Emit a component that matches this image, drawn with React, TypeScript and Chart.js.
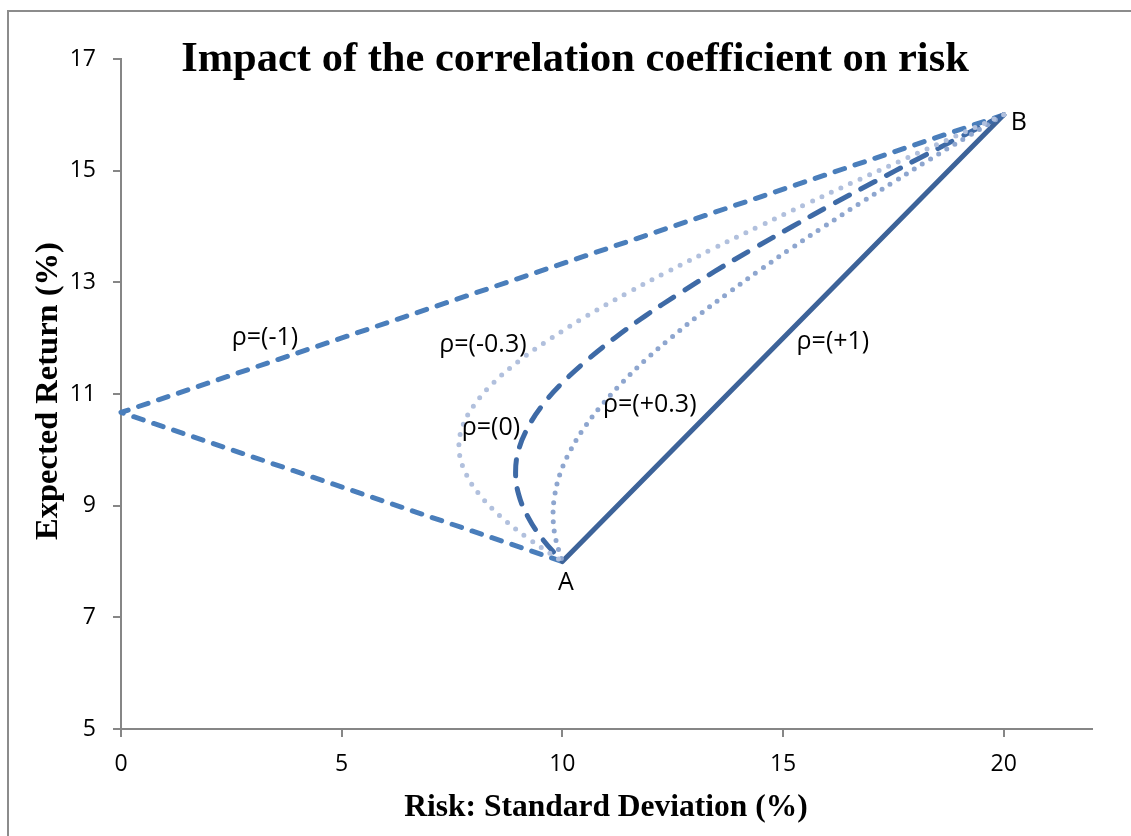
import React, { useEffect, useRef } from "react";
import { Chart, registerables } from "chart.js";
Chart.register(...registerables);

// Expected return (%) of the two-asset portfolios, from B (top) down to A (bottom)
const portfolioReturns = [16, 15.6, 15.2, 14.8, 14.4, 14, 13.6, 13.2, 12.8, 12.4, 12, 11.6, 11.2, 10.8, 10.4, 10, 9.6, 9.2, 8.8, 8.4, 8];
// Risk (%)
const riskRhoMinus03 = [20, 18.86, 17.73, 16.61, 15.52, 14.45, 13.41, 12.41, 11.45, 10.56, 9.75, 9.03, 8.44, 8.0, 7.73, 7.66, 7.8, 8.12, 8.61, 9.25, 10];
const riskRho0 = [20, 19.01, 18.03, 17.07, 16.12, 15.21, 14.32, 13.46, 12.65, 11.88, 11.18, 10.55, 10.0, 9.55, 9.22, 9.01, 8.94, 9.01, 9.22, 9.55, 10];
const riskRhoPlus03 = [20, 19.16, 18.32, 17.51, 16.71, 15.93, 15.17, 14.44, 13.74, 13.07, 12.45, 11.87, 11.35, 10.89, 10.5, 10.19, 9.96, 9.83, 9.79, 9.85, 10];
const rhoMinus1Risk = [20, 0, 10];
const rhoMinus1Return = [16, 10.67, 8];
const rhoPlus1Risk = [10, 20];
const rhoPlus1Return = [8, 16];

const labelTexts = ["ρ=(-1)", "ρ=(-0.3)", "ρ=(0)", "ρ=(+0.3)", "ρ=(+1)", "A", "B"];
const labelX = [3.26, 8.2, 8.38, 11.98, 16.13, 10.08, 20.34];
const labelY = [12.0, 11.88, 10.39, 10.8, 11.93, 7.62, 15.85];

const xTicks = [0, 5, 10, 15, 20];
const yTicks = [5, 7, 9, 11, 13, 15, 17];

const chartTitle = "Impact of the correlation coefficient on risk";
const xTitle = "Risk: Standard Deviation (%)";
const yTitle = "Expected Return (%)";

const pts = (xs: number[], ys: number[]) => xs.map((x, i) => ({ x, y: ys[i] }));

export default function App() {
  const ref = useRef<HTMLCanvasElement | null>(null);
  useEffect(() => {
    if (!ref.current) return;
    const decor = {
      id: "decor",
      beforeDraw(chart: any) {
        const ctx = chart.ctx;
        ctx.save();
        ctx.fillStyle = "#ffffff";
        ctx.fillRect(0, 0, chart.width, chart.height);
        ctx.strokeStyle = "#8c8c8c";
        ctx.lineWidth = 2;
        ctx.beginPath();
        ctx.moveTo(8, 836);
        ctx.lineTo(8, 11);
        ctx.lineTo(1131, 11);
        ctx.stroke();
        ctx.restore();
      },
      afterDraw(chart: any) {
        const ctx = chart.ctx;
        const xs = chart.scales.x;
        const ys = chart.scales.y;
        ctx.save();
        ctx.fillStyle = "#000000";
        ctx.textAlign = "center";
        ctx.textBaseline = "alphabetic";
        ctx.font = "bold 42.5px 'Liberation Serif', 'Times New Roman', serif";
        ctx.fillText(chartTitle, 575, 71);
        ctx.font = "bold 31.5px 'Liberation Serif', 'Times New Roman', serif";
        ctx.fillText(xTitle, 606, 816);
        ctx.save();
        ctx.font = "bold 32.5px 'Liberation Serif', 'Times New Roman', serif";
        ctx.translate(57, 391);
        ctx.rotate(-Math.PI / 2);
        ctx.fillText(yTitle, 0, 0);
        ctx.restore();
        ctx.font = "25px 'Open Sans', sans-serif";
        ctx.textBaseline = "middle";
        labelTexts.forEach((t, i) => {
          ctx.fillText(t, xs.getPixelForValue(labelX[i]), ys.getPixelForValue(labelY[i]));
        });
        ctx.restore();
      },
    };
    const common = { showLine: true, pointRadius: 0, borderWidth: 5, borderCapStyle: "round", borderJoinStyle: "round", fill: false, clip: 10 };
    const chart = new Chart(ref.current, {
      type: "scatter",
      data: {
        datasets: [
          { ...common, label: "ρ=(-0.3)", data: pts(riskRhoMinus03, portfolioReturns), borderColor: "#b1c0dd", borderDash: [0, 10.5], tension: 0.4 },
          { ...common, label: "ρ=(+0.3)", data: pts(riskRhoPlus03, portfolioReturns), borderColor: "#8ea6cf", borderDash: [0, 9.5], tension: 0.4 },
          { ...common, label: "ρ=(0)", data: pts(riskRho0, portfolioReturns), borderColor: "#3e6aa6", borderDash: [16, 13], tension: 0.4 },
          { ...common, label: "ρ=(+1)", data: pts(rhoPlus1Risk, rhoPlus1Return), borderColor: "#3d6399", tension: 0 },
          { ...common, label: "ρ=(-1)", data: pts(rhoMinus1Risk, rhoMinus1Return), borderColor: "#4a7ebb", borderDash: [10, 11], tension: 0 },
        ],
      } as any,
      options: {
        responsive: false,
        animation: false,
        events: [],
        layout: { padding: { left: 0, top: 59, right: 39, bottom: 0 } },
        plugins: { legend: { display: false }, title: { display: false }, tooltip: { enabled: false } },
        scales: {
          x: {
            type: "linear",
            min: 0,
            max: 22,
            afterFit: (s: any) => { s.height = 107; },
            afterBuildTicks: (s: any) => { s.ticks = xTicks.map((v) => ({ value: v })); },
            ticks: { color: "#000", font: { family: "'Open Sans', sans-serif", size: 23 }, padding: 14, maxRotation: 0 },
            grid: { drawOnChartArea: false, drawTicks: true, tickLength: 8, color: "#868686", lineWidth: 2 },
            border: { display: true, color: "#868686", width: 2 },
          },
          y: {
            type: "linear",
            min: 5,
            max: 17,
            afterFit: (s: any) => { s.width = 121; },
            afterBuildTicks: (s: any) => { s.ticks = yTicks.map((v) => ({ value: v })); },
            ticks: { color: "#000", font: { family: "'Open Sans', sans-serif", size: 23 }, padding: 17 },
            grid: { drawOnChartArea: false, drawTicks: true, tickLength: 8, color: "#868686", lineWidth: 2 },
            border: { display: true, color: "#868686", width: 2 },
          },
        },
      } as any,
      plugins: [decor],
    });
    return () => chart.destroy();
  }, []);
  return (
    <div style={{ position: "fixed", left: 0, top: 0, width: 1131, height: 836, background: "#fff" }}>
      <canvas ref={ref} width={1131} height={836} style={{ display: "block" }} />
    </div>
  );
}
